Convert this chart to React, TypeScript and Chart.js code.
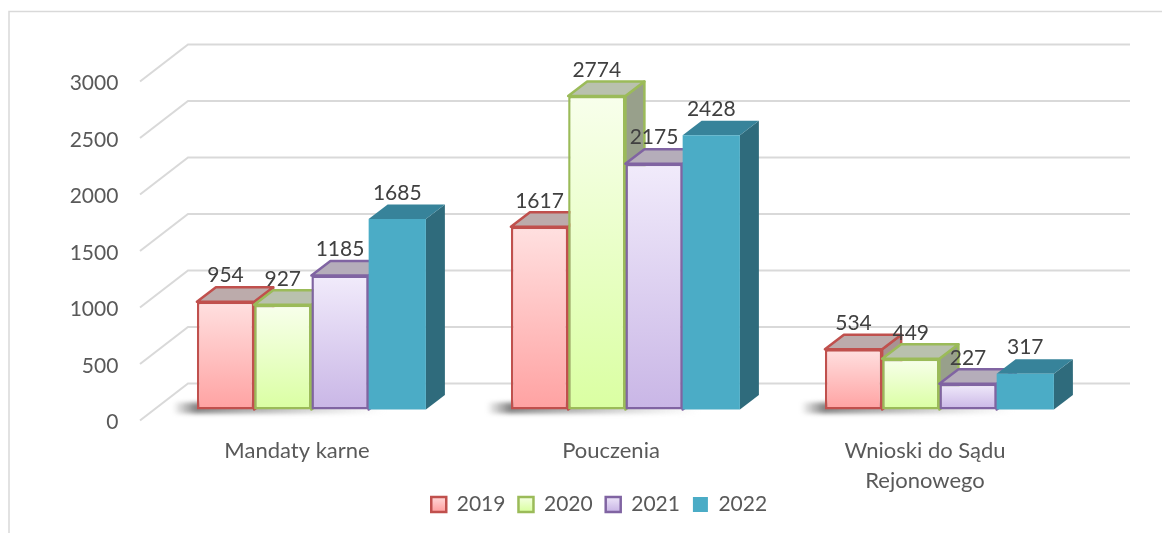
import React, { useEffect, useRef } from "react";
import { Chart, registerables } from "chart.js";

Chart.register(...registerables);

const categories = ["Mandaty karne", "Pouczenia", ["Wnioski do Sądu", "Rejonowego"]];
const series2019 = [954, 1617, 534];
const series2020 = [927, 2774, 449];
const series2021 = [1185, 2175, 227];
const series2022 = [1685, 2428, 317];
const seriesLabels = ["2019", "2020", "2021", "2022"];

const FONT = "Lato, Carlito, 'Open Sans', sans-serif";
const DIGIT_SIZE = 21;
const LABEL_SIZE = 22;
const DEPTH_X = 19;
const DEPTH_Y = 14.5;
const WALL_X = 33.6;
const WALL_Y = 26;
const FLOOR_X = 14.4;
const FLOOR_Y = 11;

const looks = [
  { top: "#FFE0E0", bottom: "#FFA2A2", border: "#C0504D", cap: "#BCABAB", side: "#A99292", width: 2.5 },
  { top: "#F8FFEC", bottom: "#DAFFA2", border: "#9BBB59", cap: "#B9C1AE", side: "#98A08B", width: 2.5 },
  { top: "#F1EBFB", bottom: "#C9B6E6", border: "#8064A2", cap: "#B5ADBA", side: "#9C94A4", width: 2.5 },
  { top: "#4BACC6", bottom: "#4BACC6", border: "#4BACC6", cap: "#37839A", side: "#2F6B7C", width: 0 },
];

function fillFor(i: number) {
  return (ctx: any) => {
    const look = looks[i];
    const chart = ctx.chart;
    if (ctx.dataIndex === undefined || !chart.chartArea) return look.bottom;
    const s = chart.scales.y;
    const g = chart.ctx.createLinearGradient(0, s.getPixelForValue(ctx.raw), 0, s.getPixelForValue(0));
    g.addColorStop(0, look.top);
    g.addColorStop(1, look.bottom);
    return g;
  };
}

function poly(c: CanvasRenderingContext2D, pts: number[][], fill: string, stroke?: string, lw = 0) {
  c.beginPath();
  pts.forEach((p, i) => (i ? c.lineTo(p[0], p[1]) : c.moveTo(p[0], p[1])));
  c.closePath();
  c.fillStyle = fill;
  c.fill();
  if (stroke && lw) {
    c.strokeStyle = stroke;
    c.lineWidth = lw;
    c.lineJoin = "round";
    c.stroke();
  }
}

const scene3d = {
  id: "scene3d",
  afterLayout(chart: any) {
    // the legend sits right of the page centre; the second line of a category needs room
    chart.legend.left += 35;
    chart.legend.right += 35;
    chart.scales.x.bottom += 40;
  },
  beforeDraw(chart: any) {
    const c: CanvasRenderingContext2D = chart.ctx;
    c.save();
    c.fillStyle = "#fff";
    c.fillRect(0, 0, chart.width, chart.height);
    c.strokeStyle = "#d9d9d9";
    c.lineWidth = 1.5;
    c.beginPath();
    c.moveTo(chart.width, 11.5);
    c.lineTo(9, 11.5);
    c.lineTo(9, chart.height);
    c.stroke();
    const { left, right } = chart.chartArea;
    const s = chart.scales.y;
    c.lineWidth = 2;
    s.ticks.forEach((t: any) => {
      const y = s.getPixelForValue(t.value);
      c.beginPath();
      c.moveTo(left - FLOOR_X, y + FLOOR_Y);
      c.lineTo(left + WALL_X, y - WALL_Y);
      c.lineTo(right + WALL_X, y - WALL_Y);
      c.stroke();
    });
    c.restore();
  },
  beforeDatasetsDraw(chart: any) {
    const c: CanvasRenderingContext2D = chart.ctx;
    const metas = chart.getSortedVisibleDatasetMetas().slice().sort((a: any, b: any) => a.index - b.index);
    const s = chart.scales.y;
    const base = s.getPixelForValue(0);
    c.save();
    // soft floor shadow of each group
    metas[0].data.forEach((first: any, k: number) => {
      const last = metas[metas.length - 1].data[k];
      const x0 = first.x - first.width / 2;
      const x1 = last.x + last.width / 2;
      const g = c.createLinearGradient(x0 - 24, 0, x1 - 40, 0);
      g.addColorStop(0, "rgba(90,90,90,0)");
      g.addColorStop(0.11, "rgba(90,90,90,0.75)");
      g.addColorStop(0.5, "rgba(130,130,130,0.5)");
      g.addColorStop(1, "rgba(170,170,170,0)");
      c.save();
      c.filter = "blur(2px)";
      c.fillStyle = g;
      c.fillRect(x0 - 24, base - 7, x1 - x0 - 16, 11);
      c.restore();
    });
    metas.forEach((meta: any) => {
      const look = looks[meta.index];
      meta.data.forEach((bar: any) => {
        const l = bar.x - bar.width / 2;
        const r = bar.x + bar.width / 2;
        const t = bar.y;
        const b = bar.base;
        const lw = look.width;
        poly(c, [[r, t], [r + DEPTH_X, t - DEPTH_Y], [r + DEPTH_X, b - DEPTH_Y], [r, b]], look.side, lw ? look.border : undefined, lw);
        poly(c, [[l, t], [l + DEPTH_X, t - DEPTH_Y], [r + DEPTH_X, t - DEPTH_Y], [r, t]], look.cap, lw ? look.border : undefined, lw);
      });
      meta.controller.draw();
    });
    // value labels
    c.fillStyle = "#404040";
    c.font = `${DIGIT_SIZE}px ${FONT}`;
    c.textAlign = "center";
    c.textBaseline = "middle";
    metas.forEach((meta: any) => {
      const values = chart.data.datasets[meta.index].data;
      meta.data.forEach((bar: any, k: number) => {
        c.fillText(String(values[k]), bar.x, bar.y - 26);
      });
    });
    c.restore();
    return false;
  },
};

export default function App() {
  const ref = useRef<HTMLCanvasElement>(null);
  useEffect(() => {
    const allSeries = [series2019, series2020, series2021, series2022];
    const chart = new Chart(ref.current!, {
      type: "bar",
      data: {
        labels: categories as any,
        datasets: allSeries.map((data, i) => ({
          label: seriesLabels[i],
          data,
          backgroundColor: fillFor(i),
          borderColor: looks[i].border,
          borderWidth: looks[i].width,
          borderSkipped: false,
          categoryPercentage: 0.7293,
          barPercentage: 1,
        })),
      },
      plugins: [scene3d],
      options: {
        responsive: false,
        animation: false,
        layout: { padding: { left: 32, right: 65.6, top: 70.5, bottom: 8 } },
        plugins: {
          tooltip: { enabled: false },
          legend: {
            position: "bottom",
            labels: {
              boxWidth: 15,
              boxHeight: 15,
              padding: 13,
              color: "#595959",
              font: { family: FONT, size: DIGIT_SIZE },
              generateLabels(chart: any) {
                const items = Chart.defaults.plugins.legend.labels.generateLabels(chart);
                items.forEach((item: any, i: number) => {
                  const g = chart.ctx.createLinearGradient(0, 495, 0, 511);
                  g.addColorStop(0, looks[i].top);
                  g.addColorStop(1, looks[i].bottom);
                  item.fillStyle = g;
                  item.strokeStyle = looks[i].border;
                  item.lineWidth = looks[i].width;
                });
                return items;
              },
            },
          },
        },
        scales: {
          x: {
            grid: { display: false },
            border: { display: false },
            afterFit(scale: any) {
              scale.height = 71.5;
            },
            ticks: {
              color: "#595959",
              font: { family: FONT, size: LABEL_SIZE, lineHeight: 1.36 },
              labelOffset: -FLOOR_X,
              padding: 18.5,
              maxRotation: 0,
              autoSkip: false,
            },
          },
          y: {
            min: 0,
            max: 3000,
            grid: { display: false, drawTicks: false },
            border: { display: false },
            afterFit(scale: any) {
              scale.width = 122.4;
            },
            ticks: {
              stepSize: 500,
              color: "#595959",
              font: { family: FONT, size: DIGIT_SIZE },
              padding: 36,
              labelOffset: 13,
              callback: (v: any) => String(v),
            },
          },
        },
      } as any,
    });
    return () => chart.destroy();
  }, []);
  return (
    <div style={{ position: "absolute", left: 0, top: 0, width: 1162, height: 533, overflow: "hidden" }}>
      <canvas ref={ref} width={1162} height={533} style={{ display: "block" }} />
    </div>
  );
}
